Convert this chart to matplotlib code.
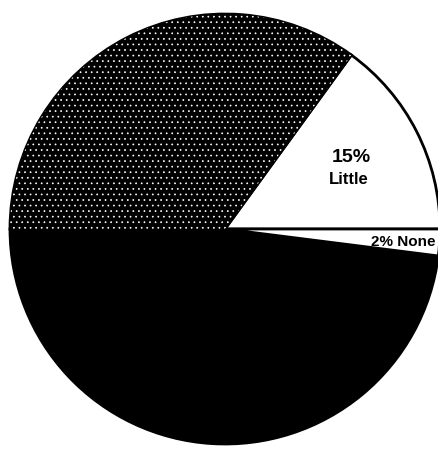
import matplotlib
matplotlib.use("Agg")
import matplotlib.pyplot as plt
from matplotlib.patches import Wedge

# Share of responses, counter-clockwise from 3 o'clock
labels = ["Little", "", "", "None"]
shares = [15, 35, 48, 2]
fills = ["white", "black", "black", "white"]
stippled = [False, True, False, False]

plt.rcParams["hatch.linewidth"] = 0.5

fig = plt.figure(figsize=(4.39, 4.52), dpi=100)
ax = fig.add_axes([0, 0, 1, 1])

center = (225, 222)
radius = 215

wedges, _ = ax.pie(shares, colors=fills, startangle=0, counterclock=True,
                   center=center, radius=radius, frame=True,
                   wedgeprops=dict(edgecolor="black", linewidth=2.0))
ax.set_xlim(0, 439)
ax.set_ylim(0, 452)
ax.set_aspect("equal")
ax.axis("off")

# speckled texture over the shaded slice
for w, s in zip(wedges, stippled):
    if s:
        tex = Wedge(w.center, w.r, w.theta1, w.theta2, facecolor="none",
                    edgecolor="white", linewidth=0, hatch="...")
        ax.add_patch(tex)

# slice labels
font = dict(family="Liberation Sans", weight="bold")
ax.text(351, 452 - 158, "15%", ha="center", va="center", fontsize=14, **font)
ax.text(349, 452 - 180, "Little", ha="center", va="center", fontsize=12, **font)
ax.text(436, 452 - 242, "2% None", ha="right", va="center", fontsize=11, **font)

fig.savefig("out.png", dpi=100, facecolor="white")
